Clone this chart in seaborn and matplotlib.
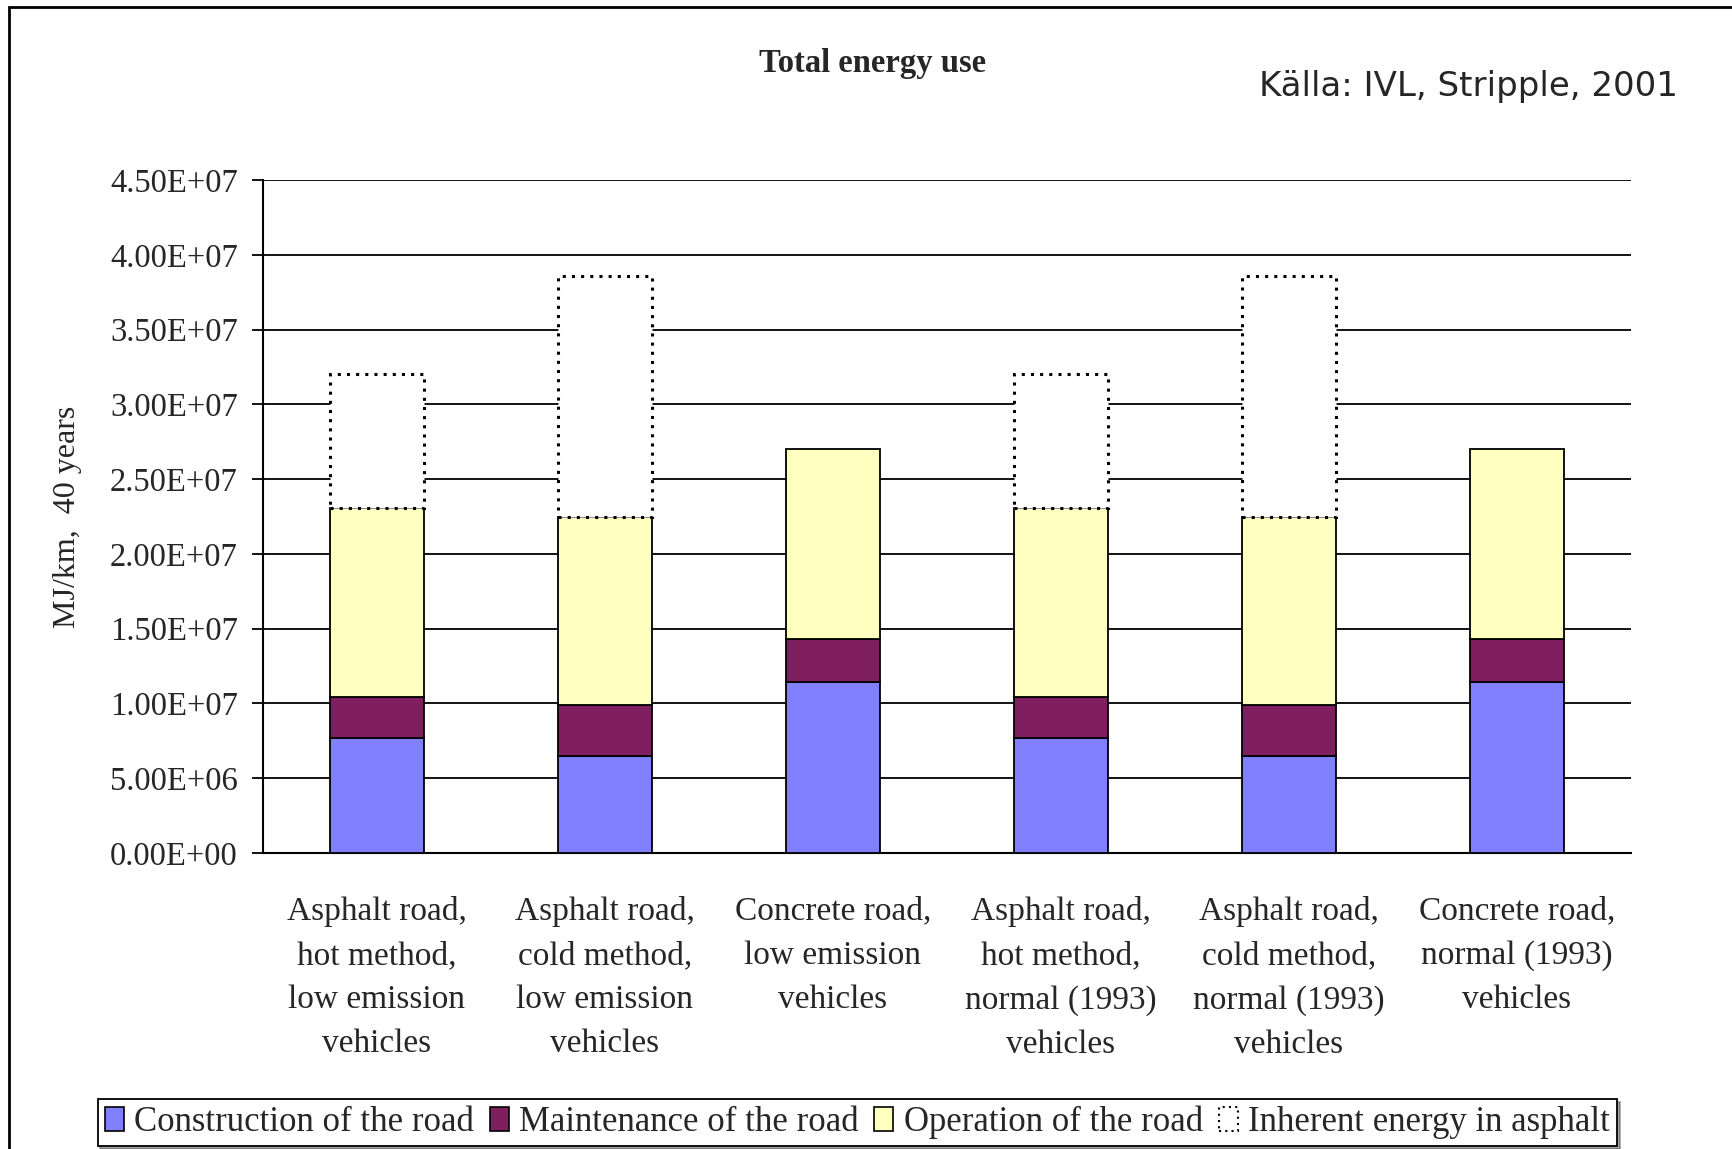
import numpy as np
import pandas as pd
import matplotlib
matplotlib.use("Agg")
import matplotlib.pyplot as plt
import seaborn as sns
from matplotlib.ticker import FuncFormatter
from matplotlib.patches import Rectangle, Patch

categories = [
    "Asphalt road,\nhot method,\nlow emission\nvehicles",
    "Asphalt road,\ncold method,\nlow emission\nvehicles",
    "Concrete road,\nlow emission\nvehicles",
    "Asphalt road,\nhot method,\nnormal (1993)\nvehicles",
    "Asphalt road,\ncold method,\nnormal (1993)\nvehicles",
    "Concrete road,\nnormal (1993)\nvehicles",
]
construction = [7.7e6, 6.5e6, 1.145e7, 7.7e6, 6.5e6, 1.145e7]
maintenance = [2.75e6, 3.4e6, 2.85e6, 2.75e6, 3.4e6, 2.85e6]
operation = [1.26e7, 1.26e7, 1.27e7, 1.26e7, 1.26e7, 1.27e7]
inherent = [8.95e6, 1.61e7, 0.0, 8.95e6, 1.61e7, 0.0]

series_names = ["Construction of the road", "Maintenance of the road",
                "Operation of the road", "Inherent energy in asphalt"]
colors = ["#8080FF", "#7F1F5F", "#FFFFC0", "white"]

sns.set_style("white")
plt.rcParams['font.family'] = ['Liberation Serif', 'DejaVu Serif']

df = pd.DataFrame({"cat": categories, "construction": construction,
                   "maintenance": maintenance, "operation": operation,
                   "inherent": inherent})

fig = plt.figure(figsize=(17.32, 11.49), dpi=100)
ax = fig.add_axes([0.1518, 0.2576, 0.7899, 0.5857])

bottom = np.zeros(len(df))
for col, color in zip(["construction", "maintenance", "operation"], colors[:3]):
    sns.barplot(data=df, x="cat", y=col, order=categories, color=color,
                width=0.41, bottom=bottom, edgecolor="black", linewidth=1.3,
                saturation=1, ax=ax, zorder=3)
    bottom = bottom + df[col].values

sns.barplot(data=df, x="cat", y="inherent", order=categories, color="white",
            width=0.41, bottom=bottom, edgecolor="black", linewidth=2.2,
            linestyle=(0, (1, 2)), saturation=1, ax=ax, zorder=3)
# hide zero-height inherent bars
for p in ax.patches[-len(df):]:
    if p.get_height() == 0:
        p.set_visible(False)

ax.set_ylim(0, 4.5e7)
ax.set_xlim(-0.5, len(categories) - 0.5)
ax.set_yticks(np.arange(0, 4.5e7 + 1, 5e6))
ax.yaxis.set_major_formatter(FuncFormatter(lambda v, p: f"{v:.2E}"))
ax.grid(True, axis="y", color="black", linewidth=1.3, zorder=0)
ax.set_axisbelow(True)

for s in ["top", "right"]:
    ax.spines[s].set_visible(False)
for s in ["left", "bottom"]:
    ax.spines[s].set_color("black")
    ax.spines[s].set_linewidth(1.5)

ax.set_xticks(np.arange(len(categories) + 1) - 0.5, minor=True)
ax.tick_params(axis="x", which="major", length=0, pad=31, labelsize=24)
ax.tick_params(axis="x", which="minor", length=14, width=1.3,
               direction="inout", color="black")
ax.tick_params(axis="y", which="major", length=8, width=1.3, direction="out",
               color="black", pad=10, labelsize=23.5, left=True)
for lab in ax.get_xticklabels():
    lab.set_linespacing(1.58)

ax.set_xlabel("")
ax.set_ylabel("MJ/km,  40 years", fontsize=23)
ax.yaxis.set_label_coords(-0.132, 0.5)

fig.text(0.504, 0.945, "Total energy use", ha="center", va="center",
         fontsize=23.5, fontweight="bold")
fig.text(0.969, 0.925, "Källa: IVL, Stripple, 2001", ha="right", va="center",
         fontsize=24.5, family=["DejaVu Sans"])

handles = [Patch(facecolor=c, edgecolor="black", linewidth=1.2) for c in colors[:3]]
handles.append(Patch(facecolor="white", edgecolor="black", linewidth=1.5,
                     linestyle=(0, (1, 2))))
leg = fig.legend(handles, series_names, loc="center", bbox_to_anchor=(0.495, 0.023),
                 ncol=4, fontsize=25, handlelength=0.55, handleheight=0.7,
                 handletextpad=0.3, columnspacing=0.45, frameon=True,
                 fancybox=False, shadow=True, borderpad=0.2)
leg.get_frame().set_edgecolor("black")
leg.get_frame().set_linewidth(1.3)

fig.patches.append(Rectangle((0.005, -0.05), 1.2, 1.044, transform=fig.transFigure,
                             fill=False, edgecolor="black", linewidth=2))

fig.savefig("out.png", dpi=100)
